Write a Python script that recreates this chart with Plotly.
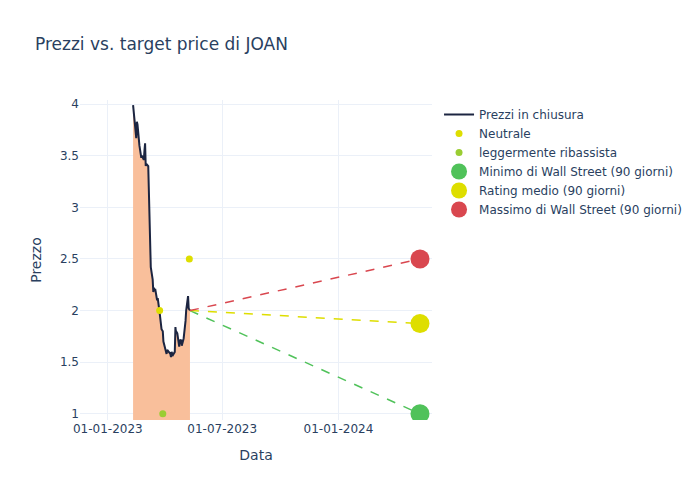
import pandas as pd
import plotly.graph_objects as go

# Closing prices (business days)
price_dates = pd.bdate_range("2023-02-10", "2023-05-11")
price_values = [
    3.99, 3.74, 3.70, 3.67, 3.83, 3.80,
    3.60, 3.56, 3.52, 3.48, 3.50,
    3.46, 3.55, 3.62, 3.40, 3.42,
    3.40, 3.20, 3.00, 2.70, 2.42,
    2.30, 2.18, 2.22, 2.20, 2.21,
    2.10, 2.12, 2.08, 2.00, 1.98,
    1.82, 1.80, 1.80, 1.70, 1.68,
    1.62, 1.58, 1.62, 1.61, 1.60,
    1.58, 1.55, 1.60, 1.58, 1.57,
    1.60, 1.84, 1.78, 1.79, 1.78,
    1.65, 1.72, 1.70, 1.72, 1.66,
    1.73, 1.78, 1.80, 1.90, 2.00,
    2.14, 2.02, 2.00, 2.00,
]

neutral_dates = ["2023-03-24", "2023-05-10"]
neutral_values = [2.0, 2.5]
slightly_bear_dates = ["2023-03-29"]
slightly_bear_values = [1.0]

last_date = "2023-05-11"
last_price = 2.0
target_date = "2024-05-09"
target_min = 1.0
target_avg = 1.875
target_max = 2.5

x_range = ["2022-11-18", "2024-05-28"]
y_range = [0.94, 4.04]

fig = go.Figure()

fig.add_trace(go.Scatter(
    x=price_dates, y=price_values, mode="lines", showlegend=False,
    line=dict(width=0), fill="tozeroy", fillcolor="#F9BF9B", hoverinfo="skip",
))
fig.add_trace(go.Scatter(
    x=price_dates, y=price_values, mode="lines", name="Prezzi in chiusura",
    line=dict(color="#1c2541", width=2),
))
fig.add_trace(go.Scatter(
    x=neutral_dates, y=neutral_values, mode="markers", name="Neutrale",
    marker=dict(color="#dede00", size=7),
))
fig.add_trace(go.Scatter(
    x=slightly_bear_dates, y=slightly_bear_values, mode="markers",
    name="leggermente ribassista",
    marker=dict(color="#9acd32", size=7),
))

targets = [
    ("Minimo di Wall Street (90 giorni)", target_min, "#50c25a"),
    ("Rating medio (90 giorni)", target_avg, "#dede00"),
    ("Massimo di Wall Street (90 giorni)", target_max, "#d9474f"),
]
for name, val, col in targets:
    fig.add_trace(go.Scatter(
        x=[last_date, target_date], y=[last_price, val], mode="lines",
        line=dict(color=col, dash="dash", width=1.5), showlegend=False,
        hoverinfo="skip",
    ))
for name, val, col in targets:
    fig.add_trace(go.Scatter(
        x=[target_date], y=[val], mode="markers", name=name,
        marker=dict(color=col, size=19),
    ))

fig.update_layout(
    template="plotly_white",
    width=700, height=500,
    font=dict(family="DejaVu Sans"),
    margin=dict(l=80, r=268, t=100, b=80),
    title=dict(text="Prezzi vs. target price di JOAN"),
    xaxis=dict(title="Data", tickformat="%d-%m-%Y", range=x_range),
    yaxis=dict(title="Prezzo", range=y_range),
)

fig.write_html("out.html", config={"displayModeBar": False},
               post_script="document.body.style.margin='0';")
